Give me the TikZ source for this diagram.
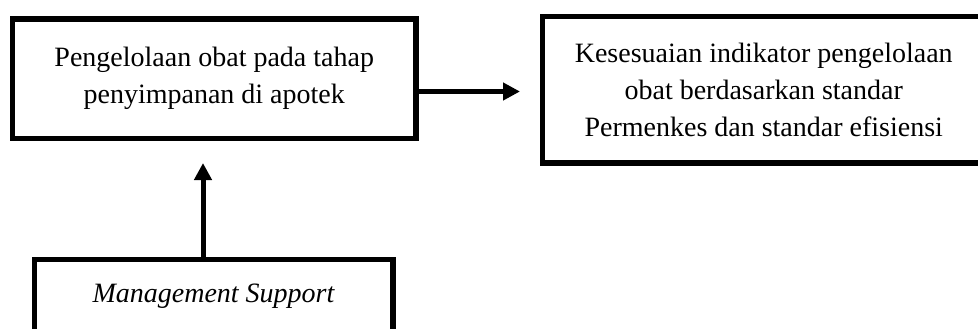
\documentclass[tikz,border=0pt]{standalone}
\usepackage{fontspec}
\setmainfont{Liberation Serif}
\usetikzlibrary{arrows.meta}

\begin{document}
\begin{tikzpicture}[x=1pt, y=-1pt,
  box/.style={rectangle, draw=black, line width=5.5pt, align=center, inner sep=0pt, font=\fontsize{28}{37}\selectfont},
  arr/.style={-{Triangle[length=17pt,width=17pt]}, line width=5pt, black}
]
\useasboundingbox (0,0) rectangle (978,329);
\clip (0,0) rectangle (978,329);
\node[box, minimum width=403.5pt, minimum height=119.5pt] (kelola) at (214.25,78.75) {Pengelolaan obat pada tahap\\ penyimpanan di apotek};
\node[box, minimum width=442.5pt, minimum height=146.5pt] (sesuai) at (763.75,89.75) {Kesesuaian indikator pengelolaan\\ obat berdasarkan standar\\ Permenkes dan standar efisiensi};
\node[box, minimum width=358.5pt, minimum height=72.5pt] (support) at (213.75,295.75) {\textit{Management Support}};
\coordinate (hline) at (0,91.5);
\coordinate (vline) at (203,0);
\draw[arr, shorten >=19.75pt] (kelola.east |- hline) -- (sesuai.west |- hline);
\draw[arr, shorten >=21.75pt] (support.north -| vline) -- (kelola.south -| vline);
\end{tikzpicture}
\end{document}
